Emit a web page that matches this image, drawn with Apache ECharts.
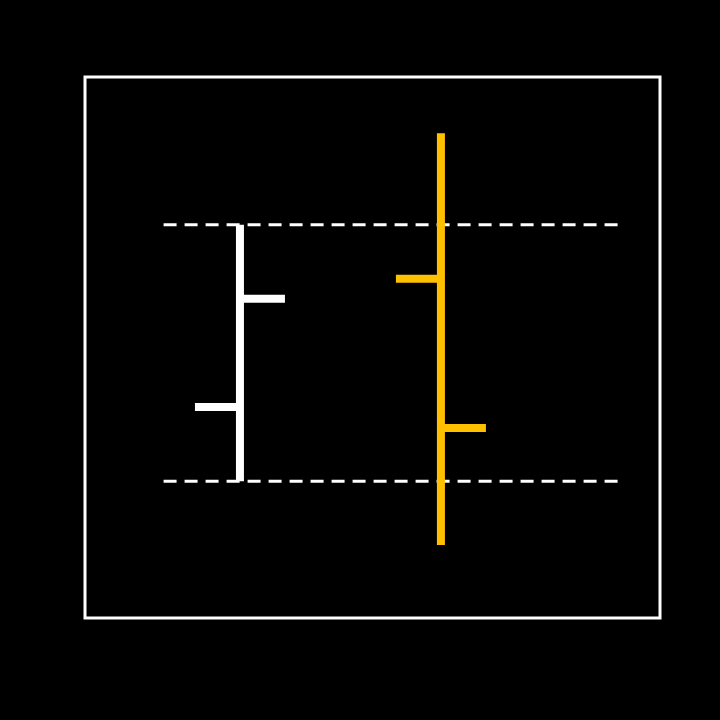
<!DOCTYPE html>
<html>
<head>
<meta charset="utf-8">
<script src="https://cdn.jsdelivr.net/npm/echarts@6/dist/echarts.min.js"></script>
<style>
  html, body { margin: 0; padding: 0; background: #000; }
  #chart { width: 720px; height: 720px; }
</style>
</head>
<body>
<div id="chart"></div>
<script>
// bar positions and OHLC values
var positions = [1, 2];
var opens  = [39.0, 62.7];
var closes = [59.0, 35.1];
var lows   = [25.3, 13.5];
var highs  = [72.7, 89.6];
var barColors = ['#ffffff', '#ffc000'];

// dashed reference lines at the first bar's high and low
var refLevels = [72.7, 25.3];
var refStart = 0.62;
var refEnd = 2.88;

var TICK_LEN = 45;
var BAR_W = 8;

var ohlcData = positions.map(function (x, i) {
  return [x, opens[i], closes[i], lows[i], highs[i]];
});

function renderOhlc(params, api) {
  var x = api.value(0);
  var o = api.coord([x, api.value(1)]);
  var c = api.coord([x, api.value(2)]);
  var lo = api.coord([x, api.value(3)]);
  var hi = api.coord([x, api.value(4)]);
  var color = barColors[params.dataIndex];
  var cx = o[0];
  return {
    type: 'group',
    children: [
      { type: 'rect', shape: { x: cx - BAR_W / 2, y: hi[1], width: BAR_W, height: lo[1] - hi[1] }, style: { fill: color } },
      { type: 'rect', shape: { x: cx - TICK_LEN, y: o[1] - BAR_W / 2, width: TICK_LEN, height: BAR_W }, style: { fill: color } },
      { type: 'rect', shape: { x: cx, y: c[1] - BAR_W / 2, width: TICK_LEN, height: BAR_W }, style: { fill: color } }
    ]
  };
}

var series = refLevels.map(function (lvl) {
  return {
    type: 'line',
    data: [[refStart, lvl], [refEnd, lvl]],
    symbol: 'none',
    silent: true,
    z: 1,
    lineStyle: { color: '#fff', width: 3, type: [13, 8] }
  };
});

series.push({
  type: 'custom',
  renderItem: renderOhlc,
  data: ohlcData,
  z: 2,
  encode: { x: 0, y: [1, 2, 3, 4] }
});

var option = {
  backgroundColor: '#000',
  animation: false,
  grid: {
    left: 85, top: 77, width: 575, height: 541,
    show: true, borderColor: '#fff', borderWidth: 3, backgroundColor: 'transparent'
  },
  xAxis: {
    type: 'value', min: 0.229, max: 3.09,
    axisLine: { show: false }, axisTick: { show: false },
    axisLabel: { show: false }, splitLine: { show: false }
  },
  yAxis: {
    type: 'value', min: 0, max: 100,
    axisLine: { show: false }, axisTick: { show: false },
    axisLabel: { show: false }, splitLine: { show: false }
  },
  series: series
};

var myChart = echarts.init(document.getElementById('chart'));
myChart.setOption(option);
</script>
</body>
</html>
